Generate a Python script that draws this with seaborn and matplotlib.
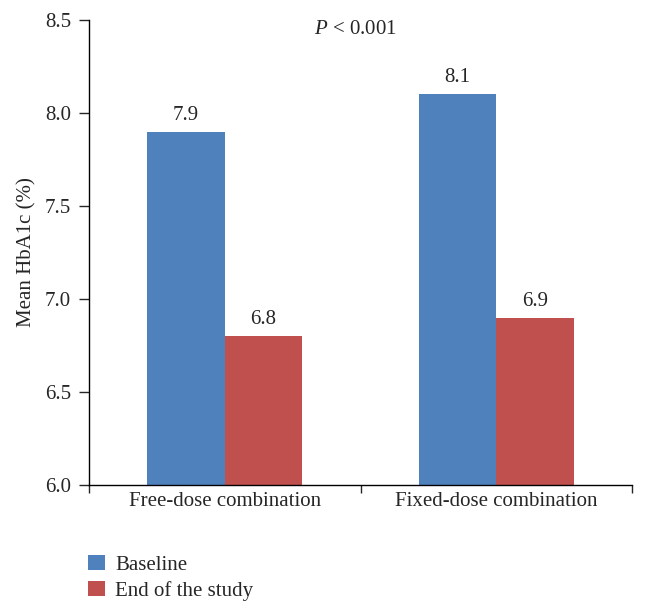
import numpy as np
import pandas as pd
import matplotlib
matplotlib.use("Agg")
import matplotlib.pyplot as plt
import seaborn as sns

# mean HbA1c by treatment group, baseline vs end of study
groups = ["Free-dose combination", "Fixed-dose combination"]
periods = ["Baseline", "End of the study"]
baseline = [7.9, 8.1]
end_study = [6.8, 6.9]
colors = ["#4F81BD", "#C0504D"]

df = pd.DataFrame({
    "group": groups * 2,
    "period": [periods[0]] * 2 + [periods[1]] * 2,
    "value": baseline + end_study,
})

sns.set_style("white")
plt.rcParams["font.family"] = ["Liberation Serif", "DejaVu Serif"]
plt.rcParams["mathtext.fontset"] = "custom"
plt.rcParams["mathtext.it"] = "Liberation Serif:italic"
plt.rcParams["mathtext.rm"] = "Liberation Serif"
fs = 15

fig = plt.figure(figsize=(6.46, 6.15), dpi=100)
ax = fig.add_axes([0.1378, 0.2114, 0.8405, 0.7561])

sns.barplot(data=df, x="group", y="value", hue="period", palette=colors,
            width=0.57, saturation=1, linewidth=0, ax=ax, legend=True)

# bars start at 6.0 - barplot draws from 0, the ylim crops them
for c in ax.containers:
    ax.bar_label(c, fmt="%.1f", padding=5, fontsize=fs)

ax.set_ylim(6.0, 8.5)
ax.set_xlim(-0.5, 1.5)
ax.set_yticks(np.arange(6.0, 8.51, 0.5))
ax.set_yticklabels([f"{v:.1f}" for v in np.arange(6.0, 8.51, 0.5)], fontsize=fs)
ax.set_xticks([0, 1])
ax.set_xticklabels(groups, fontsize=fs)
ax.set_xticks([-0.5, 0.5, 1.5], minor=True)
ax.tick_params(axis="x", which="major", length=0, pad=5)
ax.tick_params(axis="x", which="minor", length=6, width=1, direction="out", bottom=True)
ax.tick_params(axis="y", length=7, width=1, direction="out", left=True, pad=6)
ax.set_xlabel("")
ax.set_ylabel("Mean HbA1c (%)", fontsize=fs, labelpad=6)

for side in ["top", "right"]:
    ax.spines[side].set_visible(False)
for side in ["left", "bottom"]:
    ax.spines[side].set_color("black")
    ax.spines[side].set_linewidth(1)

ax.text(0.48, 8.45, r"$P$ < 0.001", ha="center", va="center", fontsize=fs)

handles, labels = ax.get_legend_handles_labels()
ax.legend(handles, labels, loc="upper left", bbox_to_anchor=(-0.002, -0.15),
          frameon=False, fontsize=fs, handlelength=0.8, handleheight=0.75,
          handletextpad=0.5, labelspacing=0.3, borderaxespad=0, borderpad=0)

fig.savefig("out.png", dpi=100)
